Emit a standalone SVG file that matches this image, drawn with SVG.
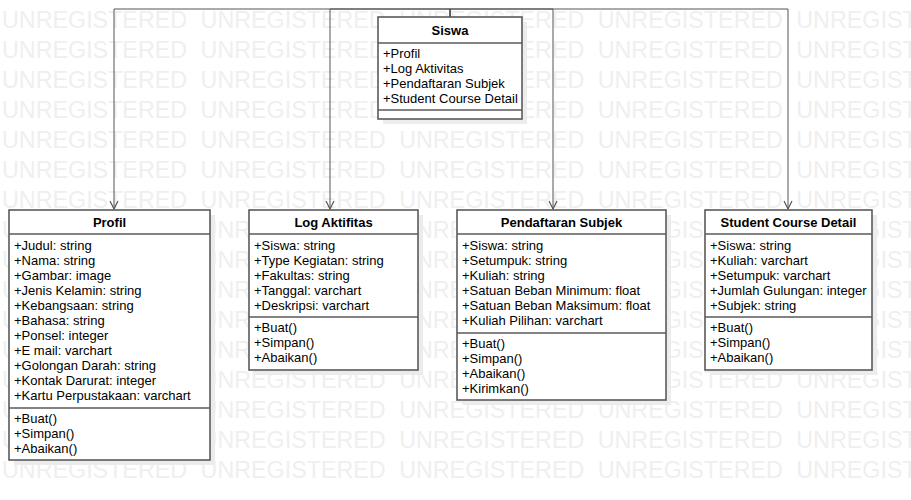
<svg xmlns="http://www.w3.org/2000/svg" xmlns:xlink="http://www.w3.org/1999/xlink" width="911" height="500" viewBox="0 0 911 500">
  <style>
    .wm { font-family: "Liberation Sans", Arial, sans-serif; font-size: 23.3px; fill: #efefef; word-spacing: 7px; }
    .box { fill: #ffffff; stroke: #5a5a5a; stroke-width: 1.6; }
    .shadow { fill: #ececec; }
    .sep { stroke: #5a5a5a; stroke-width: 1.6; }
    .title { font-family: "Liberation Sans", Arial, sans-serif; font-size: 13px; font-weight: bold; fill: #000; text-anchor: middle; }
    .item { font-family: "Liberation Sans", Arial, sans-serif; font-size: 13px; fill: #000; }
    .conn { fill: none; stroke: #555; stroke-width: 1; }
  </style>
  <defs>
    <marker id="open" markerUnits="userSpaceOnUse" markerWidth="12" markerHeight="12" viewBox="0 0 12 12" refX="10" refY="6" orient="auto">
      <path d="M2,2 L10,6 L2,10" fill="none" stroke="#555" stroke-width="1.2"/>
    </marker>
    <text id="wmrow" class="wm" x="2" y="0">UNREGISTERED UNREGISTERED UNREGISTERED UNREGISTERED UNREGISTERED</text>
  </defs>

  <rect width="911" height="500" fill="#ffffff"/>

  <!-- background watermark rows -->
  <g id="watermark">
    <use xlink:href="#wmrow" y="28"/>
    <use xlink:href="#wmrow" y="58"/>
    <use xlink:href="#wmrow" y="88"/>
    <use xlink:href="#wmrow" y="118"/>
    <use xlink:href="#wmrow" y="148"/>
    <use xlink:href="#wmrow" y="178"/>
    <use xlink:href="#wmrow" y="208"/>
    <use xlink:href="#wmrow" y="238"/>
    <use xlink:href="#wmrow" y="268"/>
    <use xlink:href="#wmrow" y="298"/>
    <use xlink:href="#wmrow" y="328"/>
    <use xlink:href="#wmrow" y="358"/>
    <use xlink:href="#wmrow" y="388"/>
    <use xlink:href="#wmrow" y="418"/>
    <use xlink:href="#wmrow" y="448"/>
    <use xlink:href="#wmrow" y="478"/>
  </g>

  <!-- associations from Siswa to each class -->
  <g id="connectors">
    <path class="conn" d="M450,17 V9 H114 V209" marker-end="url(#open)"/>
    <path class="conn" d="M450,17 V9 H330 V209" marker-end="url(#open)"/>
    <path class="conn" d="M450,17 V9 H553 V209" marker-end="url(#open)"/>
    <path class="conn" d="M450,17 V9 H788 V209" marker-end="url(#open)"/>
  </g>

  <g id="siswa">
    <rect class="shadow" x="383" y="22" width="144" height="102"/>
    <rect class="box" x="378" y="17" width="144" height="102"/>
    <line class="sep" x1="378" y1="43" x2="522" y2="43"/>
    <line class="sep" x1="378" y1="110" x2="522" y2="110"/>
    <text class="title" x="450" y="34.5">Siswa</text>
    <text class="item" x="383" y="57.5">+Profil</text>
    <text class="item" x="383" y="72.5">+Log Aktivitas</text>
    <text class="item" x="383" y="87.5">+Pendaftaran Subjek</text>
    <text class="item" x="383" y="102.5">+Student Course Detail</text>
  </g>

  <g id="profil">
    <rect class="shadow" x="14" y="215" width="201" height="250"/>
    <rect class="box" x="9" y="210" width="201" height="250"/>
    <line class="sep" x1="9" y1="234" x2="210" y2="234"/>
    <line class="sep" x1="9" y1="408" x2="210" y2="408"/>
    <text class="title" x="109.5" y="226.5">Profil</text>
    <text class="item" x="14" y="249.5">+Judul: string</text>
    <text class="item" x="14" y="264.5">+Nama: string</text>
    <text class="item" x="14" y="279.5">+Gambar: image</text>
    <text class="item" x="14" y="294.5">+Jenis Kelamin: string</text>
    <text class="item" x="14" y="309.5">+Kebangsaan: string</text>
    <text class="item" x="14" y="324.5">+Bahasa: string</text>
    <text class="item" x="14" y="339.5">+Ponsel: integer</text>
    <text class="item" x="14" y="354.5">+E mail: varchart</text>
    <text class="item" x="14" y="369.5">+Golongan Darah: string</text>
    <text class="item" x="14" y="384.5">+Kontak Darurat: integer</text>
    <text class="item" x="14" y="399.5">+Kartu Perpustakaan: varchart</text>
    <text class="item" x="14" y="422.5">+Buat()</text>
    <text class="item" x="14" y="437.5">+Simpan()</text>
    <text class="item" x="14" y="452.5">+Abaikan()</text>
  </g>

  <g id="log-aktifitas">
    <rect class="shadow" x="254" y="215" width="169" height="160"/>
    <rect class="box" x="249" y="210" width="169" height="160"/>
    <line class="sep" x1="249" y1="234" x2="418" y2="234"/>
    <line class="sep" x1="249" y1="317" x2="418" y2="317"/>
    <text class="title" x="333.5" y="226.5">Log Aktifitas</text>
    <text class="item" x="254" y="249.5">+Siswa: string</text>
    <text class="item" x="254" y="264.5">+Type Kegiatan: string</text>
    <text class="item" x="254" y="279.5">+Fakultas: string</text>
    <text class="item" x="254" y="294.5">+Tanggal: varchart</text>
    <text class="item" x="254" y="309.5">+Deskripsi: varchart</text>
    <text class="item" x="254" y="331.5">+Buat()</text>
    <text class="item" x="254" y="346.5">+Simpan()</text>
    <text class="item" x="254" y="361.5">+Abaikan()</text>
  </g>

  <g id="pendaftaran-subjek">
    <rect class="shadow" x="462" y="215" width="209" height="190"/>
    <rect class="box" x="457" y="210" width="209" height="190"/>
    <line class="sep" x1="457" y1="234" x2="666" y2="234"/>
    <line class="sep" x1="457" y1="333" x2="666" y2="333"/>
    <text class="title" x="561.5" y="226.5">Pendaftaran Subjek</text>
    <text class="item" x="462" y="249.5">+Siswa: string</text>
    <text class="item" x="462" y="264.5">+Setumpuk: string</text>
    <text class="item" x="462" y="279.5">+Kuliah: string</text>
    <text class="item" x="462" y="294.5">+Satuan Beban Minimum: float</text>
    <text class="item" x="462" y="309.5">+Satuan Beban Maksimum: float</text>
    <text class="item" x="462" y="324.5">+Kuliah Pilihan: varchart</text>
    <text class="item" x="462" y="347.5">+Buat()</text>
    <text class="item" x="462" y="362.5">+Simpan()</text>
    <text class="item" x="462" y="377.5">+Abaikan()</text>
    <text class="item" x="462" y="392.5">+Kirimkan()</text>
  </g>

  <g id="student-course-detail">
    <rect class="shadow" x="710" y="215" width="167" height="160"/>
    <rect class="box" x="705" y="210" width="167" height="160"/>
    <line class="sep" x1="705" y1="234" x2="872" y2="234"/>
    <line class="sep" x1="705" y1="317" x2="872" y2="317"/>
    <text class="title" x="788.5" y="226.5">Student Course Detail</text>
    <text class="item" x="710" y="249.5">+Siswa: string</text>
    <text class="item" x="710" y="264.5">+Kuliah: varchart</text>
    <text class="item" x="710" y="279.5">+Setumpuk: varchart</text>
    <text class="item" x="710" y="294.5">+Jumlah Gulungan: integer</text>
    <text class="item" x="710" y="309.5">+Subjek: string</text>
    <text class="item" x="710" y="331.5">+Buat()</text>
    <text class="item" x="710" y="346.5">+Simpan()</text>
    <text class="item" x="710" y="361.5">+Abaikan()</text>
  </g>
</svg>
